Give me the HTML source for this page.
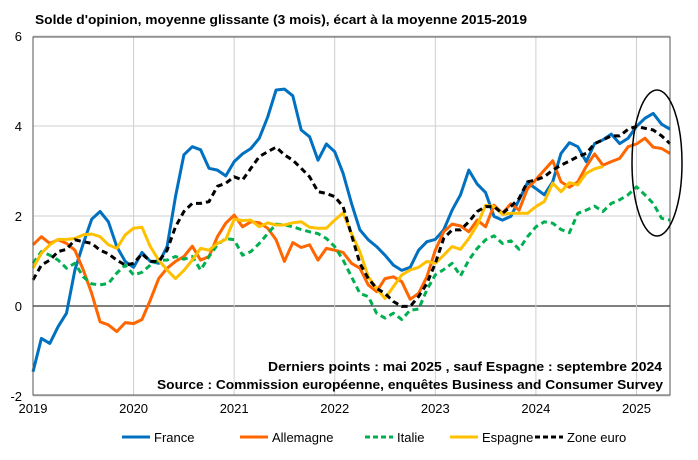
<!DOCTYPE html>
<html><head><meta charset="utf-8"><style>
body{margin:0;background:#fff;font-family:"Liberation Sans",sans-serif}
svg text{font-family:"Liberation Sans",sans-serif}
</style></head><body>
<svg width="698" height="455" viewBox="0 0 698 455" id="chart">
<text x="35" y="24" font-size="13" font-weight="bold" textLength="492" lengthAdjust="spacingAndGlyphs">Solde d'opinion, moyenne glissante (3 mois), écart à la moyenne 2015-2019</text>
<g id="grid"></g>
<g id="series"></g>
<rect x="33" y="37" width="637" height="358" fill="none" stroke="#555" stroke-width="1"/>
<ellipse cx="657" cy="163" rx="25" ry="73" fill="none" stroke="#000" stroke-width="1.5"/>
<text x="268" y="371" font-size="13" font-weight="bold" textLength="394" lengthAdjust="spacingAndGlyphs">Derniers points : mai 2025 , sauf Espagne : septembre 2024</text>
<text x="157" y="389" font-size="13" font-weight="bold" textLength="506" lengthAdjust="spacingAndGlyphs">Source : Commission européenne, enquêtes Business and Consumer Survey</text>
<g id="legend"></g>
</svg>
<script>
const yTicks=[-2,0,2,4,6];
const xTickLabels=["2019","2020","2021","2022","2023","2024","2025"];
const seriesNames=["France","Allemagne","Italie","Espagne","Zone euro"];
const france=[-1.46,-0.72,-0.83,-0.46,-0.16,0.8,1.39,1.93,2.1,1.87,1.32,0.99,0.86,1.19,0.99,0.95,1.32,2.43,3.36,3.54,3.47,3.06,3.02,2.89,3.21,3.38,3.5,3.73,4.2,4.8,4.82,4.67,3.91,3.76,3.24,3.6,3.43,2.95,2.28,1.69,1.47,1.32,1.13,0.91,0.79,0.86,1.24,1.43,1.48,1.69,2.13,2.47,3.02,2.71,2.52,1.99,1.91,1.99,2.36,2.74,2.61,2.47,2.76,3.39,3.63,3.54,3.21,3.61,3.69,3.82,3.61,3.73,3.99,4.17,4.28,4.04,3.93];
const allemagne=[1.36,1.54,1.39,1.47,1.39,1.24,0.8,0.28,-0.35,-0.42,-0.57,-0.37,-0.39,-0.3,0.13,0.61,0.84,0.99,1.1,1.33,1.02,1.1,1.54,1.84,2.02,1.76,1.87,1.85,1.73,1.47,0.99,1.41,1.3,1.36,1.02,1.28,1.24,1.19,0.95,0.84,0.47,0.32,0.61,0.65,0.54,0.15,0.28,0.65,1.24,1.65,1.82,1.78,1.65,1.91,1.76,2.24,2.06,2.27,2.13,2.61,2.81,3.02,3.23,2.76,2.64,2.76,3.1,3.38,3.13,3.21,3.28,3.54,3.6,3.73,3.53,3.5,3.39];
const italie=[0.95,1.21,1.13,1.02,0.84,0.95,0.65,0.49,0.47,0.5,0.73,0.91,0.69,0.75,0.91,1.02,1.02,1.1,1.04,1.1,0.8,1.1,1.36,1.5,1.47,1.13,1.21,1.39,1.61,1.82,1.8,1.76,1.7,1.65,1.61,1.5,1.32,1.02,0.65,0.28,0.21,-0.16,-0.27,-0.16,-0.3,-0.09,-0.07,0.36,0.69,0.81,0.95,0.67,1.02,1.28,1.47,1.56,1.39,1.45,1.26,1.54,1.76,1.87,1.84,1.7,1.63,2.06,2.13,2.22,2.1,2.28,2.36,2.47,2.65,2.47,2.28,1.95,1.91];
const espagne=[0.84,1.17,1.36,1.48,1.48,1.5,1.58,1.6,1.54,1.36,1.28,1.58,1.73,1.75,1.32,1.02,0.8,0.61,0.79,1.02,1.28,1.24,1.39,1.48,1.93,1.9,1.91,1.76,1.85,1.8,1.8,1.85,1.87,1.75,1.73,1.73,1.91,2.07,1.61,1.21,0.65,0.39,0.17,0.43,0.69,0.8,0.86,0.99,0.95,1.13,1.32,1.26,1.5,1.8,2.24,2.21,2.04,2.06,2.06,2.06,2.21,2.32,2.73,2.54,2.74,2.69,2.95,3.05,3.1];
const zoneEuro=[0.58,0.91,1.02,1.21,1.26,1.47,1.43,1.39,1.24,1.16,1.02,0.91,0.95,1.16,0.99,0.99,1.24,1.76,2.1,2.28,2.28,2.32,2.66,2.73,2.87,2.8,3.06,3.32,3.43,3.53,3.36,3.24,3.06,2.87,2.54,2.5,2.43,2.21,1.58,0.95,0.61,0.39,0.28,0.1,-0.01,-0.01,0.21,0.5,0.95,1.5,1.69,1.69,1.87,2.1,2.21,2.21,2.06,2.21,2.39,2.76,2.8,2.87,3.02,3.13,3.22,3.32,3.39,3.61,3.69,3.78,3.78,3.93,3.99,3.95,3.91,3.78,3.61];

const NS="http://www.w3.org/2000/svg";
const L=33,R=670,T=37,B=395;
function yS(v){return 306-45*v;}
function xS(i){return L+i*(R-L)/76;}
function mk(tag,attrs,parent){const e=document.createElementNS(NS,tag);for(const k in attrs)e.setAttribute(k,attrs[k]);parent.appendChild(e);return e;}
const grid=document.getElementById('grid');
yTicks.forEach(t=>{
  const ln=mk('line',{x1:L,x2:R,y1:yS(t),y2:yS(t),stroke:t===0?'#000':'#cfcfcf','stroke-width':1},grid);
  
  
  const tx=mk('text',{x:22,y:yS(t)+5,'font-size':13,'text-anchor':'end'},grid);
  tx.textContent=t;
  
  
});
xTickLabels.forEach((lab,k)=>{
  const x=xS(k*12);
  if(k>0){const ln=mk('line',{x1:x,x2:x,y1:T,y2:B,stroke:'#cfcfcf','stroke-width':1},grid);
  
  }
  const tx=mk('text',{x:x,y:413,'font-size':13,'text-anchor':'middle'},grid);
  tx.textContent=lab;
  
  
});
const styles=[
 {c:'#0070c0',d:'',data:france,n:'series-france'},
 {c:'#ff6600',d:'',data:allemagne,n:'series-allemagne'},
 {c:'#00b050',d:'6 4',data:italie,n:'series-italie'},
 {c:'#ffc000',d:'',data:espagne,n:'series-espagne'},
 {c:'#000000',d:'6 4',data:zoneEuro,n:'series-zone-euro'}];
const sg=document.getElementById('series');
styles.forEach(s=>{
  const pts=s.data.map((v,i)=>xS(i).toFixed(1)+','+yS(v).toFixed(1)).join(' ');
  const p=mk('polyline',{points:pts,fill:'none',stroke:s.c,'stroke-width':3,'stroke-linejoin':'round'},sg);
  if(s.d)p.setAttribute('stroke-dasharray',s.d);
  
  
});
const lg=document.getElementById('legend');
const lx=[122,240,365,450,535];
styles.forEach((s,k)=>{
  const g=mk('g',{},lg);
  
  
  const l=mk('line',{x1:lx[k],x2:lx[k]+28,y1:437,y2:437,stroke:s.c,'stroke-width':3},g);
  if(s.d)l.setAttribute('stroke-dasharray','5 3');
  const t=mk('text',{x:lx[k]+32,y:442,'font-size':13},g);
  t.textContent=seriesNames[k];
});
</script>
</body></html>
